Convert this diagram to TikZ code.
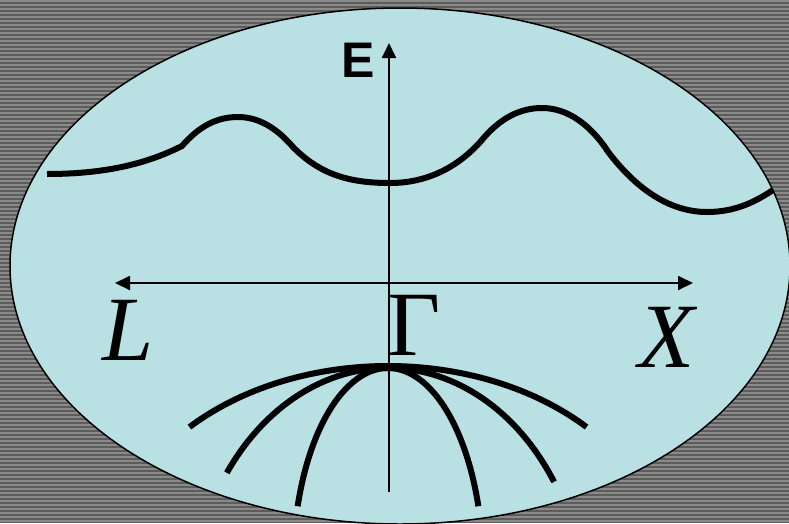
\documentclass[tikz,border=0pt]{standalone}
\usepackage{fontspec}
\usepackage{tikz}
\usetikzlibrary{arrows.meta}
\newfontfamily\lblserif{Liberation Serif}
\newfontfamily\lblsans{Liberation Sans}
\definecolor{bgdark}{RGB}{92,92,92}
\definecolor{bglight}{RGB}{138,138,138}
\definecolor{zonefill}{RGB}{185,224,227}
\tikzset{
  axis/.style     = {line width=1.8pt, black, >={Triangle[length=15pt,width=14pt]}},
  band/.style     = {line width=6pt, black},
  klabel/.style   = {anchor=base, inner sep=0pt,
                     font=\lblserif\fontsize{92}{92}\selectfont},
  elabel/.style   = {anchor=base, inner sep=0pt,
                     font=\lblsans\bfseries\fontsize{50}{50}\selectfont},
}

\begin{document}
\begin{tikzpicture}[x=1pt, y=-1pt]
  \useasboundingbox (0,0) rectangle (789,523);
  % striped backdrop
  \fill[bgdark] (0,0) rectangle (789,523);
  \foreach \yy in {1,5,...,523}
    \draw[bglight, line width=1.6pt] (0,\yy) -- (789,\yy);
  % zone
  \draw[fill=zonefill, line width=1.5pt] (400,266) ellipse [x radius=390pt, y radius=258pt];

  % axes
  \coordinate (eBot) at (389,492);
  \coordinate (eTop) at (389,43);
  \coordinate (kL)   at (115,283);
  \coordinate (kX)   at (693,283);
  \draw[axis, ->] (eBot) -- (eTop);
  \draw[axis, <->] (kL) -- (kX);

  \node[elabel] (E)  at (358,77)  {E};
  \node[klabel] (L)  at (128,360) {\itshape L};
  \node[klabel] (G)  at (414,355) {Γ};
  \node[klabel] (X)  at (667,367) {\itshape X};

  % upper band
  \draw[band] (47,174) .. controls (110,174) and (150,162) .. (182,146)
              (181,147) .. controls (200,125) and (218,117) .. (238,117)
                        .. controls (262,117) and (280,132) .. (293,147)
              (292,146) .. controls (320,175) and (350,183) .. (390,183)
                        .. controls (430,183) and (460,165) .. (482,140)
              (481,141) .. controls (500,118) and (520,108) .. (542,108)
                        .. controls (568,108) and (590,125) .. (607,150)
              (606,149) .. controls (640,195) and (675,212) .. (707,212)
                        .. controls (735,212) and (755,202) .. (773,190);

  % lower bands, all through Gamma
  \foreach \ra/\rb/\cy/\ta/\tb in {276/200/566/136/44, 198/250/618/144.5/33, 95/200/568/162/18}
    \draw[band] ({388+\ra*cos(\ta)}, {\cy-\rb*sin(\ta)})
      arc[start angle=\ta, end angle=\tb, x radius=\ra pt, y radius=\rb pt];
\end{tikzpicture}
\end{document}
